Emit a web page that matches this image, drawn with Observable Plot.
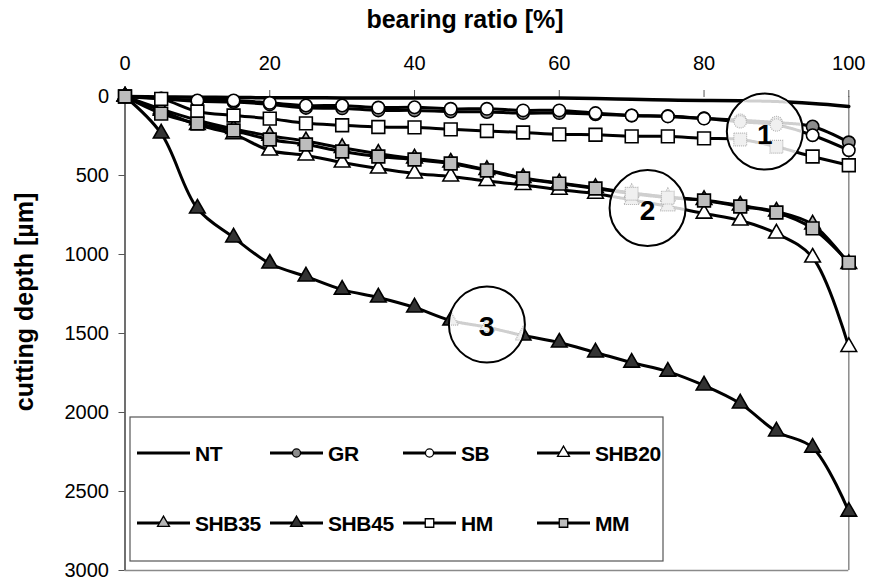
<!DOCTYPE html>
<html>
<head>
<meta charset="utf-8">
<script src="https://cdn.jsdelivr.net/npm/d3@7"></script>
<script src="https://cdn.jsdelivr.net/npm/@observablehq/plot@0.6"></script>
<style>
  html, body { margin: 0; padding: 0; background: #fff; }
  #chart { width: 870px; height: 581px; position: relative; }
</style>
</head>
<body>
<div id="chart"></div>
<script>
// ---- data ----
const bearing = [0, 5, 10, 15, 20, 25, 30, 35, 40, 45, 50, 55, 60, 65, 70, 75, 80, 85, 90, 95, 100];
const NT    = [0, 3, 5, 6, 8, 8, 9, 10, 10, 10, 10, 10, 10, 12, 18, 22, 25, 27, 32, 45, 63];
const GR    = [0, 15, 30, 35, 50, 72, 75, 88, 88, 95, 98, 105, 105, 112, 120, 124, 138, 150, 165, 190, 290];
const SB    = [0, 12, 25, 25, 40, 57, 57, 70, 68, 78, 78, 88, 88, 105, 120, 126, 140, 160, 180, 245, 340];
const SHB20 = [0, 90, 180, 238, 342, 373, 418, 456, 487, 506, 535, 560, 590, 615, 655, 695, 741, 785, 867, 1019, 1585];
const SHB35 = [0, 80, 150, 205, 248, 282, 325, 362, 392, 418, 465, 515, 548, 578, 610, 636, 655, 690, 728, 810, 1060];
const SHB45 = [0, 234, 709, 892, 1057, 1139, 1222, 1272, 1335, 1418, 1460, 1513, 1557, 1620, 1684, 1741, 1829, 1943, 2120, 2222, 2627];
const HM    = [0, 15, 95, 120, 140, 170, 182, 193, 195, 208, 218, 228, 240, 242, 252, 252, 265, 272, 318, 380, 435];
const MM    = [0, 108, 171, 215, 272, 304, 348, 380, 399, 424, 468, 519, 551, 582, 615, 640, 658, 696, 734, 835, 1051];

const seriesNames = ["NT", "GR", "SB", "SHB20", "SHB35", "SHB45", "HM", "MM"];
const seriesValues = [NT, GR, SB, SHB20, SHB35, SHB45, HM, MM];
const xTicks = [0, 20, 40, 60, 80, 100];
const yTicks = [0, 500, 1000, 1500, 2000, 2500, 3000];

// annotation circles (zones 1, 2, 3)
const zoneLabels = ["1", "2", "3"];
const zoneX = [88.4, 72.2, 50];
const zoneY = [222, 706, 1443];

// ---- styles ----
const markerSymbol = {NT: null, GR: "circle", SB: "circle", SHB20: "triangle", SHB35: "triangle", SHB45: "triangle", HM: "square", MM: "square"};
const markerFill = {NT: null, GR: "#8c8c8c", SB: "#ffffff", SHB20: "#ffffff", SHB35: "#b4b4b4", SHB45: "#333333", HM: "#ffffff", MM: "#bdbdbd"};
const markerR = {circle: 6.2, triangle: 5.8, square: 7.2};

const rows = [];
seriesNames.forEach((s, i) => bearing.forEach((b, j) => rows.push({series: s, x: b, y: seriesValues[i][j]})));
const zones = zoneLabels.map((l, i) => ({label: l, x: zoneX[i], y: zoneY[i]}));

const font = "'Liberation Sans', Arial, sans-serif";

const seriesMarks = [];
const ghostMarks = [];
seriesNames.forEach(s => {
  const data = rows.filter(d => d.series === s);
  seriesMarks.push(Plot.line(data, {x: "x", y: "y", stroke: "#000", strokeWidth: s === "NT" ? 3.5 : 3, curve: "catmull-rom"}));
  ghostMarks.push(Plot.line(data, {x: "x", y: "y", stroke: "#cfcfcf", strokeWidth: 3, strokeDasharray: "1 1", curve: "catmull-rom", className: "ghost"}));
  if (markerSymbol[s]) {
    const sym = markerSymbol[s];
    seriesMarks.push(Plot.dot(data, {x: "x", y: "y", symbol: sym, r: markerR[sym], fill: markerFill[s], stroke: "#000", strokeWidth: 1.6}));
    ghostMarks.push(Plot.dot(data, {x: "x", y: "y", symbol: sym, r: markerR[sym], fill: "#f0f0f0", stroke: "#b4b4b4", strokeWidth: 1.2, strokeDasharray: "1 1", className: "ghost"}));
  }
});

const chart = Plot.plot({
  width: 870,
  height: 581,
  marginLeft: 124.5,
  marginRight: 21.7,
  marginTop: 96,
  marginBottom: 11,
  style: {fontFamily: font, fontSize: "20px", color: "#000", background: "#fff"},
  x: {domain: [0, 100]},
  y: {domain: [0, 3000], reverse: true},
  marks: [
    Plot.ruleX([100], {stroke: "#8a8a8a", strokeWidth: 1.5}),
    Plot.ruleY([3000], {stroke: "#8a8a8a", strokeWidth: 1.5}),
    Plot.axisX({anchor: "top", ticks: xTicks, tickSize: 7, tickPadding: 20, label: null, stroke: "#555", fontSize: 20}),
    Plot.axisY({anchor: "left", ticks: yTicks, tickSize: 6, tickPadding: 10, label: null, tickFormat: d3.format("d"), stroke: "#555", fontSize: 20}),
    Plot.ruleX([0], {stroke: "#404040", strokeWidth: 1.5}),
    ...seriesMarks,
    Plot.dot(zones, {x: "x", y: "y", r: 38, fill: "#fff", stroke: "#000", strokeWidth: 2}),
    ...ghostMarks,
    Plot.text(zones, {x: "x", y: "y", text: "label", fontSize: 28, fontWeight: "bold", fill: "#000", dy: 3})
  ]
});

document.getElementById("chart").appendChild(chart);

// clip ghost marks to the zone circles
const svg = d3.select(chart);
const sx = chart.scale("x"), sy = chart.scale("y");
const defs = svg.insert("defs", ":first-child");
const cp = defs.append("clipPath").attr("id", "zoneclip");
zones.forEach(z => cp.append("circle").attr("cx", sx.apply(z.x)).attr("cy", sy.apply(z.y)).attr("r", 36.5));
svg.selectAll(".ghost").attr("clip-path", "url(#zoneclip)");

// axis titles
svg.append("text")
  .attr("x", 465).attr("y", 28)
  .attr("text-anchor", "middle")
  .attr("font-family", font).attr("font-weight", "bold").attr("font-size", 25)
  .text("bearing ratio [%]");
svg.append("text")
  .attr("transform", "translate(24,302) rotate(-90)")
  .attr("text-anchor", "middle").attr("dy", "0.35em")
  .attr("font-family", font).attr("font-weight", "bold").attr("font-size", 25)
  .text("cutting depth [µm]");

// legend
const lg = svg.append("g");
lg.append("rect").attr("x", 130).attr("y", 417).attr("width", 533).attr("height", 144)
  .attr("fill", "#fff").attr("stroke", "#555").attr("stroke-width", 1.2);
const colX = [137, 270, 403, 537];
const rowY = [453, 523];
const legSize = {circle: 52, triangle: 62, square: 72};
seriesNames.forEach((s, i) => {
  const cx = colX[i % 4], cy = rowY[Math.floor(i / 4)];
  lg.append("line").attr("x1", cx).attr("x2", cx + 53).attr("y1", cy).attr("y2", cy)
    .attr("stroke", "#000").attr("stroke-width", 3);
  const sym = markerSymbol[s];
  if (sym) {
    const t = sym === "circle" ? d3.symbolCircle : sym === "square" ? d3.symbolSquare : d3.symbolTriangle;
    lg.append("path").attr("d", d3.symbol(t, legSize[sym])())
      .attr("transform", `translate(${cx + 26.5},${cy})`)
      .attr("fill", markerFill[s]).attr("stroke", "#000").attr("stroke-width", 1.3);
  }
  lg.append("text").attr("x", cx + 58).attr("y", cy).attr("dy", "0.36em")
    .attr("text-anchor", "start")
    .attr("font-family", font).attr("font-weight", "bold").attr("font-size", 21)
    .attr("letter-spacing", "-0.4")
    .text(s);
});
</script>
</body>
</html>
